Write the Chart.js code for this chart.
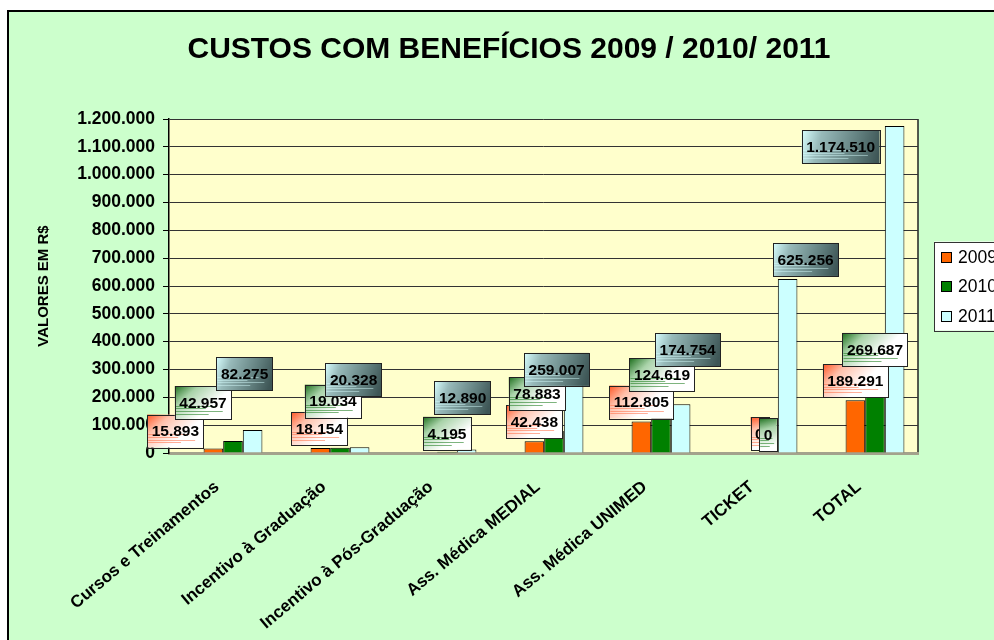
<!DOCTYPE html>
<html>
<head>
<meta charset="utf-8">
<script src="https://cdn.jsdelivr.net/npm/chart.js@4"></script>
<style>
  html, body { margin: 0; padding: 0; background: #fff; overflow: hidden; }
  #frame { position: absolute; left: 7px; top: 10px; width: 1000px; height: 640px; border: 2px solid #000; background: #ccffcc; }
  canvas { display: block; }
</style>
</head>
<body>
<div id="frame"><canvas id="custos" width="1000" height="640"></canvas></div>
<script>
const categorias = ['Cursos e Treinamentos', 'Incentivo à Graduação', 'Incentivo à Pós-Graduação',
  'Ass. Médica MEDIAL', 'Ass. Médica UNIMED', 'TICKET', 'TOTAL'];
const anos = ['2009', '2010', '2011'];
const custos2009 = [15893, 18154, null, 42438, 112805, 0, 189291];
const custos2010 = [42957, 19034, 4195, 78883, 124619, 0, 269687];
const custos2011 = [82275, 20328, 12890, 259007, 174754, 625256, 1174510];
const yMax = 1200000;
const yStep = 100000;

const FONT = "'Liberation Sans', Arial, Helvetica, sans-serif";

// 1.200.000 style numbers
const fmt = v => String(Math.round(v)).replace(/\B(?=(\d{3})+(?!\d))/g, '.');

// the value boxes were dragged around by hand in the sheet; pixel nudges from the default spot above each bar
const labelNudges = [
  [[-38, 2], [-1, 0], [0, 0], [0, 0], [0, 0], [11, 0], [0, 0]],
  [[-30, -19], [-7, -27], [0, 1], [-17, -18], [1, -24], [0, 1], [0, -9]],
  [[-8, -37], [-6, -48], [-4, -32], [-17, 8], [7, -35], [18, 0], [-54, 40]]
];

const boxLooks = [
  { stops: [[0, '#ff5524'], [0.4, '#ffc0aa'], [1, '#ffffff']], to: [0.45, 0.9], streak: 'rgba(255,110,70,0.55)' },
  { stops: [[0, '#1c6e1c'], [0.4, '#a9d3a9'], [1, '#ffffff']], to: [0.45, 0.9], streak: 'rgba(40,130,40,0.6)' },
  { stops: [[0, '#d8ffff'], [0.25, '#98baba'], [0.7, '#62807f'], [1, '#3e5656']], to: [1, 0.6], streak: 'rgba(215,255,255,0.45)' }
];

function paintBox(ctx, x, y, w, h, look) {
  const g = ctx.createLinearGradient(x, y, x + w * look.to[0], y + h * look.to[1]);
  look.stops.forEach(s => g.addColorStop(s[0], s[1]));
  ctx.fillStyle = g;
  ctx.fillRect(x, y, w, h);
  ctx.strokeStyle = look.streak;
  ctx.lineWidth = 1;
  [[0.6, 0.75], [0.68, 0.55], [0.76, 0.85], [0.84, 0.6]].forEach(([fy, fw]) => {
    ctx.beginPath();
    ctx.moveTo(x + 1, Math.round(y + h * fy) + 0.5);
    ctx.lineTo(x + w * fw, Math.round(y + h * fy) + 0.5);
    ctx.stroke();
  });
  ctx.strokeStyle = '#222';
  ctx.strokeRect(Math.round(x) + 0.5, Math.round(y) + 0.5, Math.round(w), Math.round(h));
}

const valueBoxes = {
  id: 'valueBoxes',
  afterDatasetsDraw(chart) {
    const ctx = chart.ctx;
    ctx.save();
    ctx.font = 'bold 15.5px ' + FONT;
    ctx.textAlign = 'center';
    ctx.textBaseline = 'middle';
    chart.data.datasets.forEach((ds, i) => {
      chart.getDatasetMeta(i).data.forEach((bar, j) => {
        const v = ds.data[j];
        if (v === null || v === undefined) return;
        const txt = fmt(v);
        const w = ctx.measureText(txt).width + 9;
        const h = 33;
        const n = labelNudges[i][j];
        const cx = bar.x + n[0];
        const cy = bar.y - 19.5 + n[1];
        paintBox(ctx, cx - w / 2, cy - h / 2, w, h, boxLooks[i]);
        ctx.fillStyle = '#000';
        ctx.fillText(txt, cx, cy + 1);
      });
    });
    ctx.restore();
  }
};

const plotFrame = {
  id: 'plotFrame',
  afterLayout(chart) {
    // the bars sit a bit to the right of their slots, as on the 3-D floor of the sheet
    chart.scales.x._startPixel += 10.5;
  },
  beforeDraw(chart) {
    const { ctx, chartArea: a } = chart;
    ctx.save();
    ctx.fillStyle = '#ffffcc';
    ctx.fillRect(a.left, a.top, a.width, a.height);
    ctx.strokeStyle = '#222';
    ctx.lineWidth = 1.5;
    ctx.beginPath();
    ctx.moveTo(a.right, a.top);
    ctx.lineTo(a.right, a.bottom);
    ctx.stroke();
    ctx.restore();
  },
  afterDraw(chart) {
    // legend panel to the right of the plot
    const { ctx, chartArea: a } = chart;
    const left = a.right + 16;
    const top = (a.top + a.bottom) / 2 - 44.5;
    ctx.save();
    ctx.fillStyle = '#ffffff';
    ctx.fillRect(left, top, 200, 89);
    ctx.strokeStyle = '#333';
    ctx.lineWidth = 1;
    ctx.strokeRect(Math.round(left) + 0.5, Math.round(top) + 0.5, 200, 89);
    ctx.font = '17.5px ' + FONT;
    ctx.textBaseline = 'middle';
    chart.data.datasets.forEach((ds, i) => {
      const cy = Math.round(top + 15 + i * 29.5);
      ctx.fillStyle = ds.backgroundColor;
      ctx.fillRect(left + 7, cy - 5, 10, 10);
      ctx.strokeStyle = '#000';
      ctx.strokeRect(left + 7.5, cy - 4.5, 10, 10);
      ctx.fillStyle = '#000';
      ctx.fillText(ds.label, left + 24, cy + 1);
    });
    ctx.restore();
  }
};

new Chart(document.getElementById('custos'), {
  type: 'bar',
  data: {
    labels: categorias,
    datasets: [
      { label: anos[0], data: custos2009, backgroundColor: '#ff6600' },
      { label: anos[1], data: custos2010, backgroundColor: '#008000' },
      { label: anos[2], data: custos2011, backgroundColor: '#ccffff' }
    ]
  },
  options: {
    responsive: false,
    animation: false,
    datasets: {
      bar: { borderColor: '#000', borderWidth: 1, categoryPercentage: 0.55, barPercentage: 1 }
    },
    plugins: {
      legend: { display: false },
      tooltip: { enabled: false },
      title: {
        display: true,
        text: 'CUSTOS COM BENEFÍCIOS 2009 / 2010/ 2011',
        color: '#000',
        font: { family: FONT, size: 30, weight: 'bold' },
        padding: { top: 20, bottom: 51 }
      }
    },
    scales: {
      x: {
        grid: { display: false, drawTicks: false },
        border: { color: '#a3a28c', width: 3 },
        ticks: {
          color: '#000',
          font: { family: FONT, size: 17, weight: 'bold' },
          minRotation: 40,
          maxRotation: 40,
          autoSkip: false,
          padding: 24,
          labelOffset: -16
        },
        afterFit(scale) { scale.height = 199; }
      },
      y: {
        min: 0,
        max: yMax,
        grid: {
          color: c => (c.tick && c.tick.value === 0 ? 'rgba(0,0,0,0)' : '#333'),
          tickColor: '#000',
          tickLength: 6,
          lineWidth: 1
        },
        border: { color: '#000', width: 1.5 },
        ticks: {
          stepSize: yStep,
          color: '#000',
          padding: 8,
          font: { family: FONT, size: 17.5, weight: 'bold' },
          callback: v => fmt(v)
        },
        title: {
          display: true,
          text: 'VALORES EM R$',
          color: '#000',
          font: { family: FONT, size: 15, weight: 'bold' },
          padding: { top: 26, bottom: 0 }
        },
        afterFit(scale) { scale.width = 160; }
      },
      // empty strip on the right that keeps room for the legend panel
      legendGap: {
        type: 'linear',
        position: 'right',
        grid: { display: false, drawTicks: false },
        border: { display: false },
        ticks: { display: false },
        afterFit(scale) { scale.width = 91; }
      }
    }
  },
  plugins: [plotFrame, valueBoxes]
});
</script>
</body>
</html>
